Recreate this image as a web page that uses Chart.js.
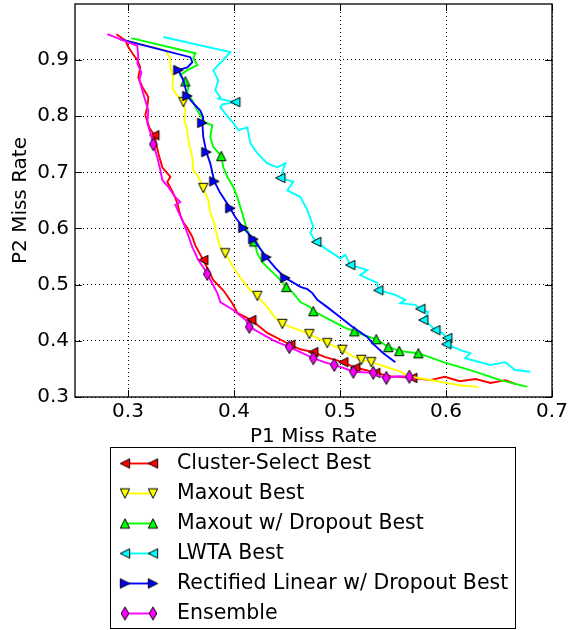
<!DOCTYPE html>
<html>
<head>
<meta charset="utf-8">
<script src="https://cdn.jsdelivr.net/npm/chart.js@4/dist/chart.umd.min.js"></script>
<style>
  html, body { margin: 0; padding: 0; background: #fff; }
</style>
</head>
<body>
<canvas id="missChart" width="569" height="630"></canvas>
<script>
// P1 / P2 miss rate curves
var seriesNames = ["Cluster-Select Best", "Maxout Best", "Maxout w/ Dropout Best", "LWTA Best", "Rectified Linear w/ Dropout Best", "Ensemble"];

var clusterX = [0.289, 0.2975, 0.3003, 0.3041, 0.3088, 0.3116, 0.3097, 0.3135, 0.3192, 0.3182, 0.3163, 0.3201, 0.3248, 0.3286, 0.3324, 0.340, 0.3371, 0.3427, 0.3465, 0.3493, 0.3522, 0.356, 0.3607, 0.3635, 0.371, 0.3805, 0.3899, 0.3984, 0.4031, 0.4163, 0.4314, 0.4531, 0.4626, 0.4748, 0.4861, 0.5031, 0.5144, 0.524, 0.5333, 0.5475, 0.5682, 0.585, 0.599, 0.613, 0.628, 0.642, 0.656, 0.666];
var clusterY = [0.946, 0.935, 0.923, 0.912, 0.900, 0.887, 0.869, 0.852, 0.834, 0.816, 0.802, 0.780, 0.766, 0.734, 0.709, 0.692, 0.683, 0.663, 0.645, 0.624, 0.611, 0.601, 0.585, 0.570, 0.544, 0.508, 0.490, 0.467, 0.450, 0.437, 0.414, 0.393, 0.385, 0.380, 0.371, 0.362, 0.352, 0.348, 0.343, 0.337, 0.334, 0.330, 0.336, 0.328, 0.332, 0.325, 0.330, 0.323];
var clusterMarks = [12, 24, 29, 31, 33, 35, 36, 38, 40];

var maxoutX = [0.2927, 0.3352, 0.3399, 0.3399, 0.3427, 0.3418, 0.3446, 0.3522, 0.3541, 0.3531, 0.356, 0.3569, 0.3607, 0.3616, 0.3663, 0.371, 0.3758, 0.3776, 0.3805, 0.3843, 0.3871, 0.3918, 0.3993, 0.4078, 0.4154, 0.422, 0.4314, 0.439, 0.4456, 0.456, 0.4711, 0.488, 0.5022, 0.5116, 0.5201, 0.5295, 0.5446, 0.557, 0.5663, 0.5805, 0.5946, 0.613, 0.6305];
var maxoutY = [0.937, 0.917, 0.903, 0.887, 0.869, 0.852, 0.841, 0.825, 0.810, 0.793, 0.775, 0.757, 0.727, 0.704, 0.692, 0.672, 0.651, 0.627, 0.615, 0.585, 0.567, 0.556, 0.531, 0.508, 0.490, 0.480, 0.460, 0.441, 0.430, 0.423, 0.412, 0.396, 0.384, 0.373, 0.366, 0.362, 0.353, 0.345, 0.336, 0.332, 0.327, 0.321, 0.318];
var maxoutMarks = [7, 15, 21, 25, 28, 30, 31, 32, 34, 35];

var maxoutDropX = [0.3031, 0.3635, 0.3616, 0.3654, 0.356, 0.3493, 0.3541, 0.3569, 0.356, 0.3607, 0.3654, 0.3729, 0.3795, 0.3776, 0.3805, 0.388, 0.3899, 0.3937, 0.3993, 0.4031, 0.4078, 0.4116, 0.4154, 0.4191, 0.422, 0.4267, 0.432, 0.4409, 0.4494, 0.456, 0.4626, 0.472, 0.4748, 0.491, 0.505, 0.5135, 0.524, 0.5342, 0.5456, 0.5559, 0.564, 0.5739, 0.5974, 0.6259, 0.6512, 0.6767];
var maxoutDropY = [0.939, 0.912, 0.903, 0.891, 0.882, 0.873, 0.862, 0.852, 0.841, 0.828, 0.810, 0.788, 0.784, 0.763, 0.745, 0.729, 0.709, 0.692, 0.674, 0.656, 0.627, 0.601, 0.585, 0.577, 0.556, 0.540, 0.530, 0.514, 0.496, 0.485, 0.469, 0.460, 0.453, 0.437, 0.423, 0.417, 0.409, 0.403, 0.389, 0.382, 0.380, 0.378, 0.362, 0.346, 0.330, 0.318];
var maxoutDropMarks = [6, 15, 23, 28, 32, 35, 37, 38, 39, 41];

var lwtaX = [0.3333, 0.3965, 0.3899, 0.3805, 0.3852, 0.3824, 0.3871, 0.3852, 0.4012, 0.389, 0.3871, 0.3946, 0.3993, 0.4041, 0.4126, 0.4154, 0.422, 0.4314, 0.4409, 0.4484, 0.4437, 0.456, 0.4503, 0.4626, 0.4692, 0.4748, 0.472, 0.4776, 0.488, 0.5003, 0.505, 0.5097, 0.5258, 0.519, 0.5352, 0.5361, 0.5522, 0.5617, 0.557, 0.571, 0.5758, 0.5833, 0.5786, 0.585, 0.59, 0.5965, 0.6012, 0.6003, 0.613, 0.623, 0.618, 0.6418, 0.656, 0.665, 0.6795];
var lwtaY = [0.941, 0.914, 0.900, 0.882, 0.864, 0.846, 0.834, 0.831, 0.825, 0.821, 0.816, 0.798, 0.788, 0.775, 0.780, 0.752, 0.734, 0.716, 0.709, 0.716, 0.690, 0.683, 0.668, 0.656, 0.633, 0.603, 0.592, 0.576, 0.562, 0.547, 0.553, 0.535, 0.526, 0.517, 0.503, 0.490, 0.482, 0.473, 0.467, 0.464, 0.457, 0.451, 0.437, 0.428, 0.419, 0.414, 0.405, 0.394, 0.384, 0.378, 0.369, 0.357, 0.362, 0.348, 0.345];
var lwtaMarks = [8, 20, 27, 31, 35, 40, 42, 44, 46, 47];

var reluDropX = [0.2927, 0.3588, 0.3607, 0.356, 0.3475, 0.3522, 0.3541, 0.356, 0.3616, 0.3682, 0.371, 0.3701, 0.371, 0.3739, 0.3776, 0.3814, 0.3871, 0.3965, 0.4012, 0.4088, 0.4182, 0.4305, 0.439, 0.4484, 0.4626, 0.4692, 0.4739, 0.4786, 0.488, 0.5003, 0.5116, 0.5258, 0.5305, 0.5409, 0.5522];
var reluDropY = [0.937, 0.905, 0.896, 0.887, 0.882, 0.864, 0.850, 0.836, 0.823, 0.810, 0.798, 0.788, 0.763, 0.736, 0.716, 0.684, 0.663, 0.636, 0.620, 0.601, 0.581, 0.549, 0.530, 0.512, 0.496, 0.492, 0.485, 0.473, 0.460, 0.442, 0.425, 0.407, 0.396, 0.378, 0.362];
var reluDropMarks = [4, 7, 11, 13, 15, 17, 19, 20, 21, 23];

var ensembleX = [0.2805, 0.3088, 0.3097, 0.3088, 0.3126, 0.3107, 0.3135, 0.3163, 0.3192, 0.3182, 0.3211, 0.3239, 0.3276, 0.3305, 0.3324, 0.338, 0.3446, 0.3493, 0.3446, 0.3512, 0.356, 0.3607, 0.3663, 0.371, 0.3748, 0.3843, 0.3871, 0.3993, 0.411, 0.4144, 0.4371, 0.4522, 0.4626, 0.4748, 0.485, 0.4946, 0.5031, 0.5126, 0.521, 0.5314, 0.538, 0.5437, 0.555, 0.5654, 0.571];
var ensembleY = [0.946, 0.925, 0.905, 0.894, 0.878, 0.864, 0.846, 0.828, 0.810, 0.788, 0.770, 0.750, 0.727, 0.704, 0.686, 0.674, 0.656, 0.647, 0.642, 0.615, 0.592, 0.567, 0.544, 0.531, 0.519, 0.485, 0.469, 0.455, 0.437, 0.425, 0.401, 0.389, 0.380, 0.369, 0.362, 0.357, 0.352, 0.345, 0.344, 0.343, 0.337, 0.334, 0.337, 0.336, 0.332];
var ensembleMarks = [11, 24, 29, 31, 33, 35, 37, 39, 41, 43];

var xTicks = [0.3, 0.4, 0.5, 0.6, 0.7];
var yTicks = [0.3, 0.4, 0.5, 0.6, 0.7, 0.8, 0.9];

var FONT = '"DejaVu Sans", "Liberation Sans", sans-serif';

// small marker pictures (filled, black edge) like the matplotlib ones
function makeMarker(shape, color) {
  var c = document.createElement('canvas');
  c.width = 16; c.height = 16;
  var g = c.getContext('2d');
  var m = 8, h = 4.7;
  g.beginPath();
  if (shape === 'left') { g.moveTo(m - h, m); g.lineTo(m + h, m - h); g.lineTo(m + h, m + h); }
  else if (shape === 'right') { g.moveTo(m + h, m); g.lineTo(m - h, m - h); g.lineTo(m - h, m + h); }
  else if (shape === 'up') { g.moveTo(m, m - h); g.lineTo(m + h, m + h); g.lineTo(m - h, m + h); }
  else if (shape === 'down') { g.moveTo(m, m + h); g.lineTo(m + h, m - h); g.lineTo(m - h, m - h); }
  else { g.moveTo(m, m - 6.5); g.lineTo(m + 3.8, m); g.lineTo(m, m + 6.5); g.lineTo(m - 3.8, m); }
  g.closePath();
  g.fillStyle = color;
  g.fill();
  g.lineWidth = 1;
  g.strokeStyle = '#000';
  g.stroke();
  return c;
}

function toPoints(xs, ys) {
  var pts = [];
  for (var i = 0; i < xs.length; i++) pts.push({ x: xs[i], y: ys[i] });
  return pts;
}

var styles = [
  { color: '#ff0000', shape: 'left' },
  { color: '#ffff00', shape: 'down' },
  { color: '#00ff00', shape: 'up' },
  { color: '#00ffff', shape: 'left' },
  { color: '#0000ff', shape: 'right' },
  { color: '#ff00ff', shape: 'diamond' }
];
var allX = [clusterX, maxoutX, maxoutDropX, lwtaX, reluDropX, ensembleX];
var allY = [clusterY, maxoutY, maxoutDropY, lwtaY, reluDropY, ensembleY];
var allMarks = [clusterMarks, maxoutMarks, maxoutDropMarks, lwtaMarks, reluDropMarks, ensembleMarks];
var markerPics = styles.map(function (s) { return makeMarker(s.shape, s.color); });

var datasets = seriesNames.map(function (name, k) {
  var marks = allMarks[k];
  return {
    label: name,
    data: toPoints(allX[k], allY[k]),
    showLine: true,
    borderColor: styles[k].color,
    borderWidth: 1.9,
    tension: 0,
    pointStyle: markerPics[k],
    pointRadius: function (c) { return marks.indexOf(c.dataIndex) >= 0 ? 6 : 0; },
    order: seriesNames.length - k   // later series drawn on top, like the original
  };
});

// frame, inward tick marks and the boxed legend
var framePlugin = {
  id: 'frameLegend',
  afterDraw: function (chart) {
    var ctx = chart.ctx, a = chart.chartArea;
    var xs = chart.scales.x, ys = chart.scales.y;
    ctx.save();
    ctx.strokeStyle = '#000';
    ctx.lineWidth = 1;
    ctx.beginPath();
    xTicks.forEach(function (v) {
      var p = Math.round(xs.getPixelForValue(v)) + 0.5;
      ctx.moveTo(p, a.bottom); ctx.lineTo(p, a.bottom - 7);
      ctx.moveTo(p, a.top); ctx.lineTo(p, a.top + 7);
    });
    yTicks.forEach(function (v) {
      var p = Math.round(ys.getPixelForValue(v)) + 0.5;
      ctx.moveTo(a.left, p); ctx.lineTo(a.left + 7, p);
      ctx.moveTo(a.right, p); ctx.lineTo(a.right - 7, p);
    });
    ctx.stroke();
    ctx.lineWidth = 1.3;
    ctx.strokeRect(a.left, a.top, a.right - a.left, a.bottom - a.top);

    // legend
    var bx = 110.5, by = 447.5, bw = 405, bh = 181;
    ctx.fillStyle = '#fff';
    ctx.fillRect(bx, by, bw, bh);
    ctx.lineWidth = 1;
    ctx.strokeStyle = '#000';
    ctx.strokeRect(bx, by, bw, bh);
    ctx.font = '20.5px ' + FONT;
    ctx.textBaseline = 'middle';
    ctx.textAlign = 'left';
    seriesNames.forEach(function (name, k) {
      var y = 463.5 + k * 30;
      ctx.strokeStyle = styles[k].color;
      ctx.lineWidth = 1.9;
      ctx.beginPath();
      ctx.moveTo(125, y); ctx.lineTo(153, y);
      ctx.stroke();
      ctx.drawImage(markerPics[k], 125 - 8, y - 8);
      ctx.drawImage(markerPics[k], 153 - 8, y - 8);
      ctx.fillStyle = '#000';
      ctx.fillText(name, 177, y);
    });
    ctx.restore();
  }
};

Chart.defaults.font.family = FONT;
Chart.defaults.font.size = 20;
Chart.defaults.color = '#000';

var myChart = new Chart(document.getElementById('missChart'), {
  type: 'scatter',
  data: { datasets: datasets },
  options: {
    responsive: false,
    animation: false,
    events: [],
    layout: { padding: { top: 4, right: 17, bottom: 183, left: 0 } },
    plugins: { legend: { display: false }, tooltip: { enabled: false } },
    scales: {
      x: {
        type: 'linear',
        min: 0.25, max: 0.7,
        ticks: { stepSize: 0.1, includeBounds: false, padding: 3, maxRotation: 0,
                 callback: function (v) { return v.toFixed(1); } },
        grid: { color: '#000', lineWidth: 1, drawTicks: false },
        border: { display: false, dash: [1, 3] },
        title: { display: true, text: 'P1 Miss Rate', font: { size: 20, lineHeight: 1 }, padding: { top: 0, bottom: 0 } },
        afterFit: function (s) { s.height = 50; s.paddingLeft = 0; s.paddingRight = 0; }
      },
      y: {
        type: 'linear',
        min: 0.3, max: 0.9997,
        ticks: { stepSize: 0.1, includeBounds: false, padding: 6,
                 callback: function (v) { return v.toFixed(1); } },
        grid: { color: '#000', lineWidth: 1, drawTicks: false },
        border: { display: false, dash: [1, 3] },
        title: { display: true, text: 'P2 Miss Rate', font: { size: 20, lineHeight: 1 }, padding: { top: 11, bottom: 0 } },
        afterFit: function (s) { s.width = 75; s.paddingTop = 0; s.paddingBottom = 0; }
      }
    }
  },
  plugins: [framePlugin]
});
</script>
</body>
</html>
